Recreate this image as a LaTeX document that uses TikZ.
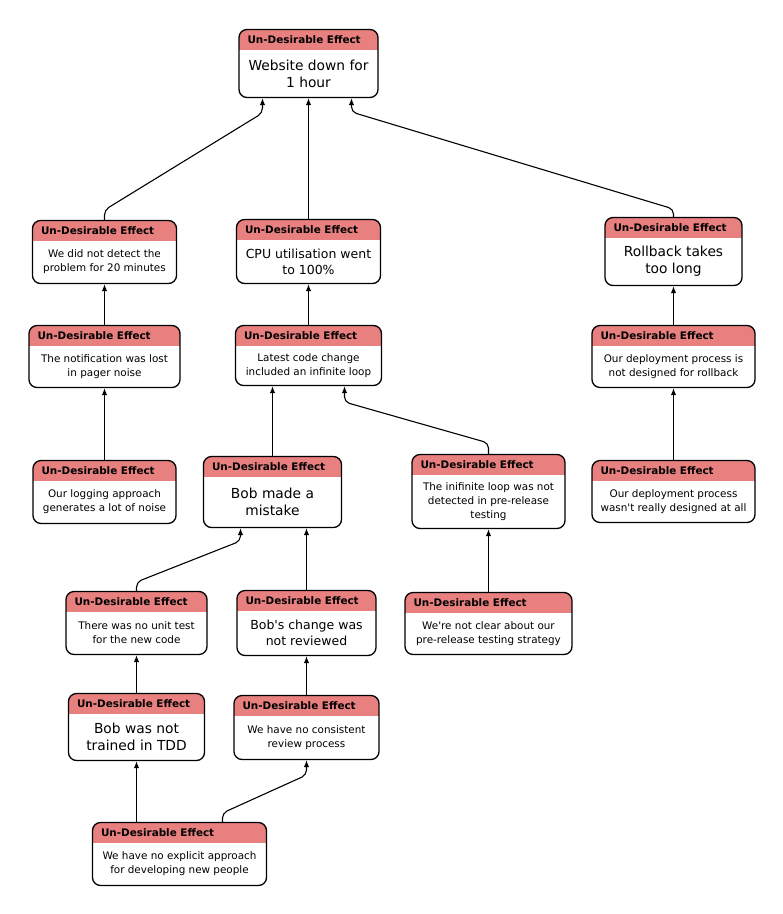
\documentclass[tikz,border=0pt]{standalone}
\usepackage{fontspec}
\setmainfont{DejaVu Sans}
\usepackage{tikz}
\usetikzlibrary{arrows.meta}
\definecolor{udered}{HTML}{E8807F}
\newcommand{\udesmall}{\fontsize{10.4}{14}\selectfont}
\newcommand{\udemid}{\fontsize{12.5}{16}\selectfont}
\newcommand{\udelarge}{\fontsize{13.8}{17}\selectfont}
\newcommand{\apos}{\textquotesingle}
\tikzset{
  udebox/.style   = {draw,line width=1.3pt,rounded corners=8pt,fill=white,inner sep=0pt,
    path picture={\fill[udered,sharp corners] (path picture bounding box.north west)
      rectangle ([yshift=-20pt]path picture bounding box.north east);}},
  udehead/.style  = {anchor=west,inner sep=0pt,font=\bfseries\fontsize{10.4}{12}\selectfont},
  udetext/.style  = {align=center,inner sep=0pt},
  udearrow/.style = {-{Latex[length=7pt,width=5.5pt]},line width=1.1pt,rounded corners=5pt}
}
% box: name, centre, width, height, font, text
\newcommand{\ude}[6]{%
  \node[udebox,minimum width=#3pt,minimum height=#4pt] (#1) at (#2) {};
  \node[udehead] (#1-h) at ([xshift=9pt,yshift=-10.5pt]#1.north west) {Un-Desirable Effect};
  \node[udetext,font=#5] (#1-t) at ([yshift=-10pt]#1.center) {#6};
}

\begin{document}
\begin{tikzpicture}[x=1pt,y=-1pt]
  \useasboundingbox (0,0) rectangle (783,914);
  \ude{top}{308.5,63.5}{139}{68}{\udelarge}{Website down for\\1 hour}
  \ude{detect}{104.5,252}{144}{63}{\udesmall}{We did not detect the\\problem for 20 minutes}
  \ude{cpu}{308.5,251.5}{144}{64}{\udemid}{CPU utilisation went\\to 100\%}
  \ude{rollback}{673.5,251.5}{137}{68}{\udelarge}{Rollback takes\\too long}
  \ude{notif}{104.5,356.5}{151}{62}{\udesmall}{The notification was lost\\in pager noise}
  \ude{latest}{308.5,355.5}{146}{60}{\udesmall}{Latest code change\\included an infinite loop}
  \ude{deployA}{673.5,356.5}{163}{62}{\udesmall}{Our deployment process is\\not designed for rollback}
  \ude{logging}{104.5,492}{143}{63}{\udesmall}{Our logging approach\\generates a lot of noise}
  \ude{bob}{272.5,492}{138}{71}{\udelarge}{Bob made a\\mistake}
  \ude{infinite}{488.5,491.5}{153}{74}{\udesmall}{The inifinite loop was not\\detected in pre-release\\testing}
  \ude{deployB}{673.5,491.5}{163}{62}{\udesmall}{Our deployment process\\wasn\apos t really designed at all}
  \ude{unit}{136.5,623}{141}{63}{\udesmall}{There was no unit test\\for the new code}
  \ude{change}{306.5,623}{139}{65}{\udemid}{Bob\apos s change was\\not reviewed}
  \ude{unclear}{488.5,623.5}{167}{62}{\udesmall}{We\apos re not clear about our\\pre-release testing strategy}
  \ude{tdd}{136.5,727}{136}{67}{\udelarge}{Bob was not\\trained in TDD}
  \ude{review}{306.5,727.5}{145}{64}{\udesmall}{We have no consistent\\review process}
  \ude{explicit}{179.5,854}{174}{63}{\udesmall}{We have no explicit approach\\for developing new people}

  \foreach \a/\b in {cpu/top,notif/detect,latest/cpu,deployA/rollback,logging/notif,
      bob/latest,deployB/deployA,change/bob,unclear/infinite,review/change,tdd/unit}
    \draw[udearrow] (\a.north) -- (\a.north |- \b.south);
  \draw[udearrow] (tdd.south |- explicit.north) -- (tdd.south);

  \draw[udearrow] (detect.north) -- (104.5,210) -- (262.5,113) -- ([xshift=-46pt]top.south);
  \draw[udearrow] (rollback.north) -- (673.5,209) -- (351.5,112) -- ([xshift=43pt]top.south);
  \draw[udearrow] (infinite.north) -- (488.5,443) -- (344.5,402) -- ([xshift=36pt]latest.south);
  \draw[udearrow] (unit.north) -- (136.5,582) -- (240.5,541) -- ([xshift=-32pt]bob.south);
  \draw[udearrow] ([xshift=43pt]explicit.north) -- (222.5,813) -- (306.5,775) -- (review.south);
\end{tikzpicture}
\end{document}
